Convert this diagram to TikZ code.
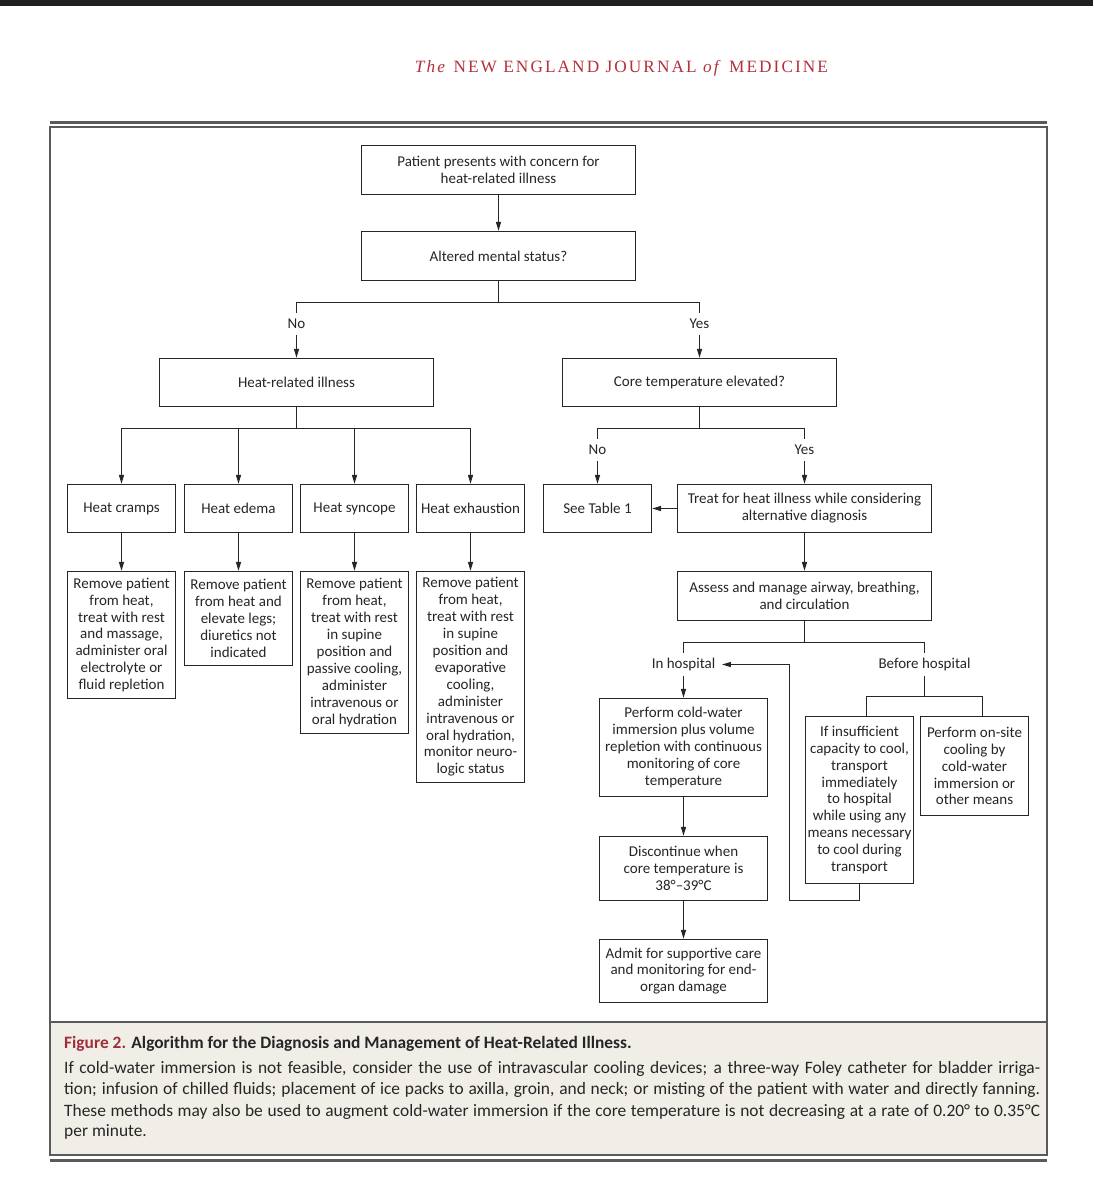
\documentclass[tikz,border=0pt]{standalone}
\usepackage{graphicx}
\usepackage{fontspec}
\setmainfont{Carlito}
\newfontfamily\hdrfont[LetterSpace=12]{Liberation Serif}
\usetikzlibrary{arrows.meta}
\definecolor{nejmred}{HTML}{B3303C}
\definecolor{capred}{HTML}{A12F3A}
\definecolor{capbg}{HTML}{F1EEE8}
\definecolor{framec}{HTML}{5A5A5A}
\definecolor{ink}{HTML}{262626}
\begin{document}
\begin{tikzpicture}[x=1pt,y=-1pt,
  box/.style={draw=ink, line width=1.3pt, inner sep=0pt, align=center, text=ink,
    font=\fontsize{15}{16.9}\selectfont},
  lbl/.style={inner sep=0pt, minimum height=22pt, text=ink, font=\fontsize{15}{16.9}\selectfont},
  conn/.style={draw=ink, line width=1.3pt},
  arr/.style={conn, -{Triangle[length=9pt,width=5pt]}},
  capline/.style={anchor=base west, inner sep=0pt, text=ink, font=\fontsize{17.4}{21.5}\selectfont}]
\useasboundingbox (0,0) rectangle (1093,1200);
\fill[white] (0,0) rectangle (1093,1200);
% top bar
\fill[black!88] (0,0) rectangle (1093,5.5);
% header
\node[inner sep=0pt] (hdr) at (621.5,68) {\resizebox{413pt}{!}{\hdrfont\fontsize{15}{15}\selectfont\color{nejmred}\textit{The} NEW ENGLAND JOURNAL \textit{of} MEDICINE}};
% frame
\draw[framec, line width=2.4pt] (50,122.3) -- (1047,122.3);
\fill[capbg] (50,1021.7) rectangle (1047,1155);
\draw[framec, line width=2pt] (50,127.3) rectangle (1047,1155);
\draw[framec, line width=2pt] (50,1021.7) -- (1047,1021.7);
\draw[framec, line width=2.4pt] (50,1160.5) -- (1047,1160.5);

% nodes: top
\node[box, minimum width=274pt, minimum height=49pt] (patient) at (498.5,170) {Patient presents with concern for\\heat-related illness};
\node[box, minimum width=274pt, minimum height=49pt] (altered) at (498.5,256) {Altered mental status?};
\node[lbl] (no1) at (296.5,324) {No};
\node[lbl] (yes1) at (699.5,324) {Yes};
\node[box, minimum width=274pt, minimum height=48pt] (hri) at (296.5,382.5) {Heat-related illness};
\node[box, minimum width=274pt, minimum height=48pt] (core) at (699.5,382.5) {Core temperature elevated?};

% left branch
\node[box, minimum width=108pt, minimum height=48pt] (cramps) at (121.5,508.5) {Heat cramps};
\node[box, minimum width=108pt, minimum height=48pt] (edema) at (238.5,508.5) {Heat edema};
\node[box, minimum width=108pt, minimum height=48pt] (syncope) at (354.5,508.5) {Heat syncope};
\node[box, minimum width=108pt, minimum height=48pt] (exh) at (470.5,508.5) {Heat exhaustion};

\node[box, minimum width=108pt, minimum height=127pt] (crampsd) at (121.5,635) {Remove patient\\from heat,\\treat with rest\\and massage,\\administer oral\\electrolyte or\\fluid repletion};
\node[box, minimum width=108pt, minimum height=94pt] (edemad) at (238.5,618.5) {Remove patient\\from heat and\\elevate legs;\\diuretics not\\indicated};
\node[box, minimum width=108pt, minimum height=162pt] (syncoped) at (354.5,652.5) {Remove patient\\from heat,\\treat with rest\\in supine\\position and\\passive cooling,\\administer\\intravenous or\\oral hydration};
\node[box, minimum width=108pt, minimum height=211pt] (exhd) at (470.5,677) {Remove patient\\from heat,\\treat with rest\\in supine\\position and\\evaporative\\cooling,\\administer\\intravenous or\\oral hydration,\\monitor neuro-\\logic status};

% right branch
\node[lbl] (no2) at (597.5,450) {No};
\node[lbl] (yes2) at (804.5,450) {Yes};
\node[box, minimum width=108pt, minimum height=48pt] (table) at (597.5,508.5) {See Table 1};
\node[box, minimum width=254pt, minimum height=48pt] (treat) at (804.5,508.5) {Treat for heat illness while considering\\alternative diagnosis};
\node[box, minimum width=254pt, minimum height=49pt] (assess) at (804.5,596) {Assess and manage airway, breathing,\\and circulation};
\node[lbl] (inh) at (683.5,664.5) {In hospital};
\node[lbl] (bh) at (924.5,664.5) {Before hospital};
\node[box, minimum width=168pt, minimum height=98pt] (perform) at (683.5,747.5) {Perform cold-water\\immersion plus volume\\repletion with continuous\\monitoring of core\\temperature};
\node[box, minimum width=168pt, minimum height=64pt] (disc) at (683.5,868.5) {Discontinue when\\core temperature is\\38°--39°C};
\node[box, minimum width=168pt, minimum height=63pt] (admit) at (683.5,971) {Admit for supportive care\\and monitoring for end-\\organ damage};
\node[box, minimum width=108pt, minimum height=167pt] (insuf) at (859.5,800) {If insufficient\\capacity to cool,\\transport\\immediately\\to hospital\\while using any\\means necessary\\to cool during\\transport};
\node[box, minimum width=108pt, minimum height=99pt] (onsite) at (974.5,766) {Perform on-site\\cooling by\\cold-water\\immersion or\\other means};

% connectors
\draw[arr] (patient.south) -- (altered.north);
\draw[conn] (altered.south) -- ++(0,21) coordinate (s1);
\draw[conn] (s1) -| (no1.north);
\draw[conn] (s1) -| (yes1.north);
\draw[arr] (no1.south) -- (hri.north);
\draw[arr] (yes1.south) -- (core.north);

\draw[conn] (hri.south) -- ++(0,21) coordinate (s2);
\foreach \n in {cramps,edema,syncope,exh} {
  \draw[arr] (s2) -| (\n.north);
  \draw[arr] (\n.south) -- (\n d.north);
}

\draw[conn] (core.south) -- ++(0,21) coordinate (s3);
\draw[conn] (s3) -| (no2.north);
\draw[conn] (s3) -| (yes2.north);
\draw[arr] (no2.south) -- (table.north);
\draw[arr] (yes2.south) -- (treat.north);
\draw[arr] (treat.west) -- (table.east);
\draw[arr] (treat.south) -- (assess.north);

\draw[conn] (assess.south) -- ++(0,21) coordinate (s4);
\draw[conn] (s4) -| (inh.north);
\draw[conn] (s4) -| (bh.north);
\draw[arr] (inh.south) -- (perform.north);
\draw[arr] (perform.south) -- (disc.north);
\draw[arr] (disc.south) -- (admit.north);

\draw[conn] (bh.south) -- ++(0,21) coordinate (s5);
\draw[conn] (s5) -| ([xshift=7pt]insuf.north);
\draw[conn] (s5) -| ([xshift=8pt]onsite.north);

\coordinate (fb) at (789.5,900.5);
\draw[arr] (insuf.south) |- (fb) |- ([xshift=6.5pt]inh.east);

% caption
\node[capline] (captitle) at (64,1048) {\bfseries{\color{capred}Figure 2.} Algorithm for the Diagnosis and Management of Heat-Related Illness.};
\node[capline] (cap1) at (64,1073) {\makebox[976pt][s]{If cold-water immersion is not feasible, consider the use of intravascular cooling devices; a three-way Foley catheter for bladder irriga-}};
\node[capline] (cap2) at (64,1094) {\makebox[976pt][s]{tion; infusion of chilled fluids; placement of ice packs to axilla, groin, and neck; or misting of the patient with water and directly fanning.}};
\node[capline] (cap3) at (64,1116) {\makebox[976pt][s]{These methods may also be used to augment cold-water immersion if the core temperature is not decreasing at a rate of 0.20° to 0.35°C}};
\node[capline] (cap4) at (64,1136) {per minute.};
\end{tikzpicture}
\end{document}
